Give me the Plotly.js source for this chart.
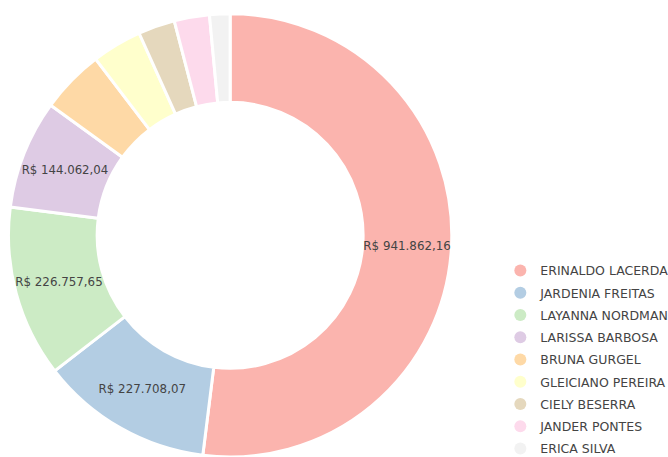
<!DOCTYPE html>
<html>
<head>
<meta charset="utf-8">
<script src="https://cdn.plot.ly/plotly-3.0.1.min.js"></script>
<style>html,body{margin:0;padding:0;background:#fff;}#chart{width:668px;height:457px;}</style>
</head>
<body>
<div id="chart"></div>
<script>
const names = ["ERINALDO LACERDA","JARDENIA FREITAS","LAYANNA NORDMAN","LARISSA BARBOSA","BRUNA GURGEL","GLEICIANO PEREIRA","CIELY BESERRA","JANDER PONTES","ERICA SILVA"];
const values = [941862.16, 227708.07, 226757.65, 144062.04, 84000, 66000, 48500, 46500, 27000];
const labelsShown = ["R$ 941.862,16","R$ 227.708,07","R$ 226.757,65","R$ 144.062,04","","","","",""];
const colors = ["#fbb4ae","#b3cde3","#ccebc5","#decbe4","#fed9a6","#ffffcc","#e5d8bd","#fddaec","#f2f2f2"];

const traces = [{
  type: "pie",
  labels: names,
  values: values,
  text: labelsShown,
  textinfo: "text",
  hoverinfo: "label+value",
  textposition: "inside",
  insidetextorientation: "horizontal",
  textfont: {family: "DejaVu Sans", size: 12, color: "#444"},
  hole: 0.6,
  sort: false,
  direction: "clockwise",
  rotation: 0,
  marker: {colors: colors, line: {color: "#ffffff", width: 3}},
  domain: {x: [0.012, 0.677], y: [0, 0.97]},
  showlegend: false
}];
names.forEach((n, i) => {
  traces.push({
    type: "scatter", mode: "markers", x: [null], y: [null], name: n,
    legendgroup: "g" + i,
    marker: {color: colors[i], size: 12, symbol: "circle"},
    showlegend: true, hoverinfo: "skip"
  });
});

const layout = {
  width: 668, height: 457,
  margin: {l: 0, r: 0, t: 0, b: 0, autoexpand: false},
  paper_bgcolor: "#fff", plot_bgcolor: "#fff",
  xaxis: {visible: false}, yaxis: {visible: false},
  showlegend: true,
  legend: {
    xref: "container", yref: "container",
    x: 0.749, y: 0.44, xanchor: "left", yanchor: "top",
    font: {family: "DejaVu Sans", size: 12.5, color: "#444"},
    tracegroupgap: 3, itemwidth: 30
  }
};
Plotly.newPlot("chart", traces, layout, {staticPlot: true, displayModeBar: false});
</script>
</body>
</html>
